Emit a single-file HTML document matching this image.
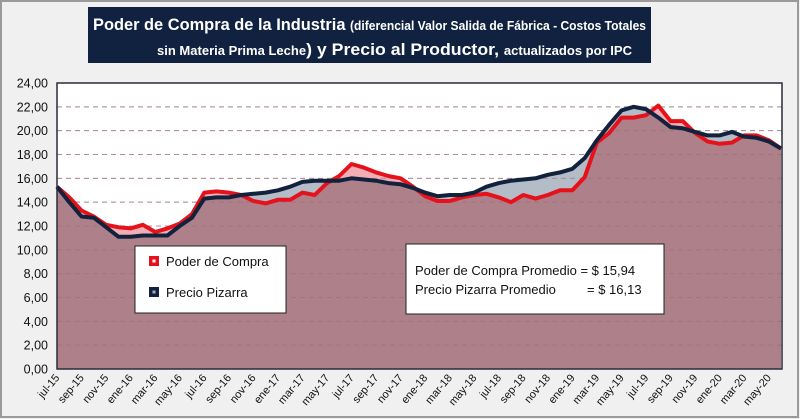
<!DOCTYPE html>
<html><head><meta charset="utf-8">
<style>
html,body{margin:0;padding:0;background:#f0f0f0;}
body{width:800px;height:419px;overflow:hidden;font-family:"Liberation Sans",sans-serif;}
svg{display:block}
</style></head>
<body>
<svg id="chart" width="800" height="419" xmlns="http://www.w3.org/2000/svg">
<rect x="1" y="1" width="797" height="416" fill="#f0f0f0" stroke="#9a9a9a" stroke-width="2"/>
<rect x="88" y="7" width="563" height="56" fill="#10223f"/>
<text x="93" y="30" fill="#fff" font-weight="bold" textLength="553" lengthAdjust="spacingAndGlyphs"><tspan font-size="17">Poder de Compra de la Industria </tspan><tspan font-size="12.5">(diferencial Valor Salida de Fábrica - Costos Totales</tspan></text>
<text x="157" y="55" fill="#fff" font-weight="bold" textLength="475" lengthAdjust="spacingAndGlyphs"><tspan font-size="12.5">sin Materia Prima Leche</tspan><tspan font-size="17">) y Precio al Productor, </tspan><tspan font-size="12.5">actualizados por IPC</tspan></text>
<rect x="57" y="83" width="725" height="286" fill="#ffffff"/>
<defs><clipPath id="blueClip"><path id="blueClipPath"/></clipPath></defs>
<g id="grid"></g>
<path id="blueArea" fill="#b4bcc7"/>
<path id="redArea" fill="#f1aeb4"/>
<path id="overlapArea" fill="#ad808a" clip-path="url(#blueClip)"/>
<g id="gridOver"></g>
<path id="redLine" fill="none" stroke="#e6121b" stroke-width="4" stroke-linejoin="round"/>
<path id="blueLine" fill="none" stroke="#12223d" stroke-width="4" stroke-linejoin="round"/>
<rect x="57" y="83" width="725" height="286" fill="none" stroke="#2a2a3a" stroke-width="1.5"/>
<g id="yaxis"></g><g id="xaxis"></g>
<g>
<rect x="135" y="246" width="151" height="67" fill="#fff" stroke="#222" stroke-width="1"/>
<rect x="149" y="256" width="10" height="10" fill="#e6121b"/><rect x="152.5" y="259.5" width="3" height="3" fill="#fff"/>
<text x="166" y="266" font-size="13" fill="#111">Poder de Compra</text>
<rect x="149" y="287" width="10" height="10" fill="#12223d"/><rect x="152.5" y="290.5" width="3" height="3" fill="#aab"/>
<text x="166" y="297" font-size="13" fill="#111">Precio Pizarra</text>
</g>
<g>
<rect x="406" y="244" width="258" height="70" fill="#fff" stroke="#222" stroke-width="1"/>
<text x="415" y="275" font-size="13" fill="#111">Poder de Compra Promedio = $ 15,94</text>
<text x="415" y="294" font-size="13" fill="#111">Precio Pizarra Promedio</text>
<text x="587" y="294" font-size="13" fill="#111">= $ 16,13</text>
</g>
</svg>
<script>
const poderCompra=[15.3,14.4,13.3,12.8,12.1,11.9,11.8,12.1,11.5,11.8,12.2,13.0,14.8,14.9,14.8,14.6,14.1,13.9,14.2,14.2,14.8,14.6,15.6,16.2,17.2,16.9,16.5,16.2,16.0,15.3,14.5,14.1,14.1,14.4,14.6,14.7,14.4,14.0,14.6,14.3,14.6,15.0,15.0,16.1,19.0,19.8,21.1,21.1,21.3,22.1,20.8,20.8,19.8,19.1,18.9,19.0,19.6,19.6,19.2,18.5];
const precioPizarra=[15.3,14.0,12.8,12.7,11.9,11.1,11.1,11.2,11.2,11.2,12.0,12.7,14.3,14.4,14.4,14.6,14.7,14.8,15.0,15.3,15.7,15.8,15.8,15.8,16.0,15.9,15.8,15.6,15.5,15.2,14.8,14.5,14.6,14.6,14.8,15.3,15.6,15.8,15.9,16.0,16.3,16.5,16.8,17.7,19.2,20.5,21.7,22.0,21.8,21.1,20.3,20.2,19.9,19.6,19.6,19.9,19.5,19.4,19.1,18.5];
const yTicks=[0,2,4,6,8,10,12,14,16,18,20,22,24];
const monthNames=["ene","feb","mar","abr","may","jun","jul","ago","sep","oct","nov","dic"];
const NS="http://www.w3.org/2000/svg";
const X0=57,X1=781,Y0=369,Y24=83;
const xs=i=>X0+i*(X1-X0)/(poderCompra.length-1);
const ys=v=>Y0-(v/24)*(Y0-Y24);
function mk(tag,attrs,parent){const e=document.createElementNS(NS,tag);for(const k in attrs)e.setAttribute(k,attrs[k]);parent.appendChild(e);return e;}
const grid=document.getElementById('grid'),gridOver=document.getElementById('gridOver'),yaxis=document.getElementById('yaxis'),xaxis=document.getElementById('xaxis');
yTicks.forEach(t=>{
 if(t>0&&t<24){
  const g1=mk('line',{x1:X0,x2:X1+1,y1:ys(t),y2:ys(t),stroke:'#bbb','stroke-dasharray':'5,4'},grid);
  
  
  const g2=mk('line',{x1:X0,x2:X1+1,y1:ys(t),y2:ys(t),stroke:'#9a6c76','stroke-dasharray':'5,4','stroke-opacity':'0.6'},gridOver);
  
  
 }
 const tx=mk('text',{x:48,y:ys(t)+4.5,'text-anchor':'end','font-size':'12.5',fill:'#111'},yaxis);
 tx.textContent=t.toFixed(2).replace('.',',');
 
 
});
for(let i=0;i<poderCompra.length;i+=2){
 const m=(6+i)%12,yr=15+Math.floor((6+i)/12);
 const lbl=monthNames[m]+'-'+yr;
 const x=xs(i)+3;
 const tx=mk('text',{x:x,y:378,'text-anchor':'end','font-size':'11',fill:'#111',transform:`rotate(-50 ${x} 378)`},xaxis);
 tx.textContent=lbl;
 
 
}
function linePath(a){return a.map((v,i)=>(i?'L':'M')+xs(i).toFixed(1)+','+ys(v).toFixed(1)).join(' ');}
function areaPath(a){return linePath(a)+` L${xs(a.length-1)},${Y0} L${xs(0)},${Y0} Z`;}
document.getElementById('redArea').setAttribute('d',areaPath(poderCompra));
document.getElementById('blueArea').setAttribute('d',areaPath(precioPizarra));
document.getElementById('blueClipPath').setAttribute('d',areaPath(precioPizarra));
document.getElementById('overlapArea').setAttribute('d',areaPath(poderCompra));
document.getElementById('redLine').setAttribute('d',linePath(poderCompra));
document.getElementById('blueLine').setAttribute('d',linePath(precioPizarra));
</script>
</body></html>
